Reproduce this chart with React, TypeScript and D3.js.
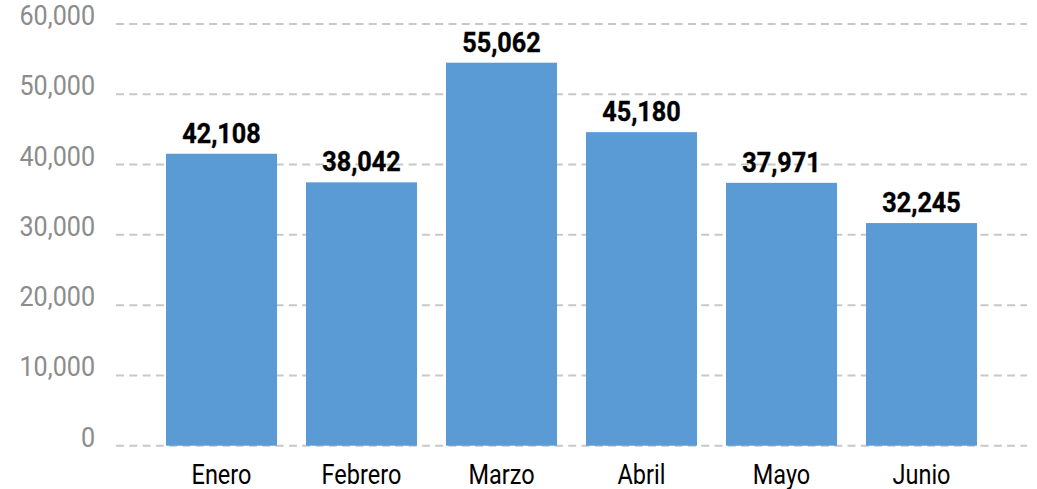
import React from "react";
import * as d3 from "d3";

const months = ["Enero", "Febrero", "Marzo", "Abril", "Mayo", "Junio"];
const values = [42108, 38042, 55062, 45180, 37971, 32245];
const yTicks = [0, 10000, 20000, 30000, 40000, 50000, 60000];

const W = 1037;
const H = 489;

export default function App() {
  const x = d3.scaleBand<string>().domain(months).range([137, 1006]).padding(0.207);
  const y = d3.scaleLinear().domain([0, 60000]).range([445.7, 24]);
  // bars are drawn on a scale offset slightly below the axis, as in the reference
  const yBar = d3.scaleLinear().domain([0, 60000]).range([449.7, 28]);
  const fmt = d3.format(",");
  const font = "Roboto, 'Noto Sans', sans-serif";

  return (
    <svg
      width={W}
      height={H}
      style={{ position: "absolute", left: 0, top: 0, background: "#fff" }}
    >
      {yTicks.map((t) => (
        <g key={t}>
          <line
            x1={116}
            x2={1027}
            y1={y(t)}
            y2={y(t)}
            stroke="#c8c8c8"
            strokeWidth={2}
            strokeDasharray="8,5.3"
          />
          <text
            transform={`translate(95,${y(t) + 1}) scale(0.93,1)`}
            textAnchor="end"
            fontFamily={font}
            fontSize={27}
            fill="#8c8c8c"
          >
            {fmt(t)}
          </text>
        </g>
      ))}
      {months.map((m, i) => {
        const bx = x(m) as number;
        const by = yBar(values[i]);
        return (
          <g key={m}>
            <rect
              x={bx}
              y={by}
              width={x.bandwidth()}
              height={y(0) - by}
              fill="#5b9bd5"
            />
            <text
              transform={`translate(${bx + x.bandwidth() / 2},${by - 11}) scale(0.9,1)`}
              textAnchor="middle"
              fontFamily={font}
              fontWeight="bold"
              fontSize={28}
              fill="#000"
              stroke="#000"
              strokeWidth={0.4}
            >
              {fmt(values[i])}
            </text>
            <text
              transform={`translate(${bx + x.bandwidth() / 2},484) scale(0.84,1)`}
              textAnchor="middle"
              fontFamily={font}
              fontSize={28}
              fill="#000"
            >
              {m}
            </text>
          </g>
        );
      })}
    </svg>
  );
}
